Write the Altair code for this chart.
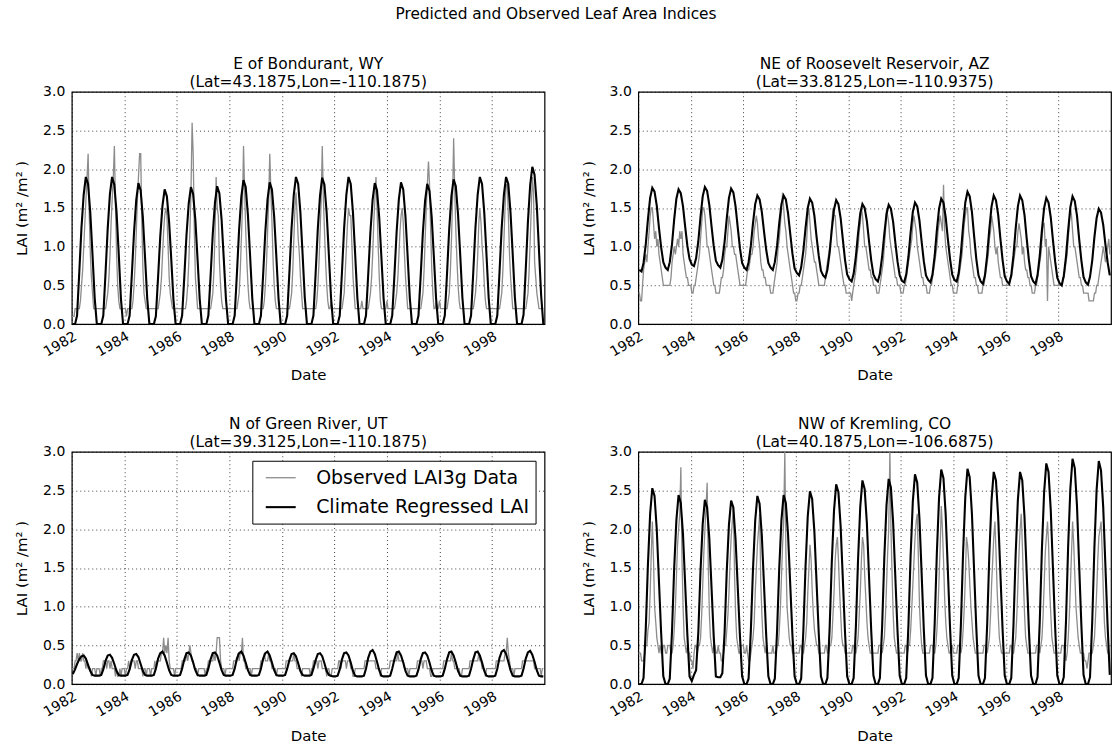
import altair as alt
import pandas as pd

# ---------------------------------------------------------------------------
# Series values
#   *_PRED : climate regressed LAI, one row per year (1982-1999),
#            12 monthly values (mid-month), in hundredths of m2/m2
#   *_OBS  : observed LAI3g, one row per year, 24 half-monthly values
#            (1st and 16th of each month), in tenths of m2/m2
# ---------------------------------------------------------------------------
YEARS = list(range(1982, 2000))
OBS_LABEL = "Observed LAI3g Data"
PRED_LABEL = "Climate Regressed LAI"

SITE_NAMES = [
    "E of Bondurant, WY",
    "NE of Roosevelt Reservoir, AZ",
    "N of Green River, UT",
    "NW of Kremling, CO",
]
SITE_COORDS = [
    "(Lat=43.1875,Lon=-110.1875)",
    "(Lat=33.8125,Lon=-110.9375)",
    "(Lat=39.3125,Lon=-110.1875)",
    "(Lat=40.1875,Lon=-106.6875)",
]

Y_TICKS = [0.0, 0.5, 1.0, 1.5, 2.0, 2.5, 3.0]
X_TICK_YEARS = [1982, 1984, 1986, 1988, 1990, 1992, 1994, 1996, 1998]

WY_PRED = [
    [0, 0, 11, 67, 124, 167, 190, 181, 144, 91, 34, 0],
    [0, 0, 11, 66, 123, 168, 190, 180, 145, 92, 33, 0],
    [0, 0, 11, 64, 118, 160, 182, 173, 138, 87, 33, 0],
    [0, 0, 10, 61, 113, 153, 174, 165, 132, 84, 31, 0],
    [0, 0, 11, 62, 115, 156, 177, 168, 135, 85, 32, 0],
    [0, 0, 11, 62, 116, 157, 178, 169, 135, 85, 32, 0],
    [0, 0, 11, 65, 121, 164, 186, 177, 141, 89, 33, 0],
    [0, 0, 11, 64, 119, 161, 183, 174, 139, 88, 33, 0],
    [0, 0, 11, 67, 124, 167, 190, 181, 144, 91, 34, 0],
    [0, 0, 11, 66, 123, 166, 189, 180, 144, 91, 34, 0],
    [0, 0, 11, 67, 124, 167, 190, 181, 144, 91, 34, 0],
    [0, 0, 11, 64, 118, 160, 182, 173, 138, 87, 33, 0],
    [0, 0, 11, 64, 119, 161, 183, 174, 139, 88, 33, 0],
    [0, 0, 11, 63, 118, 159, 181, 172, 138, 87, 33, 0],
    [0, 0, 11, 65, 122, 165, 187, 178, 142, 90, 34, 0],
    [0, 0, 11, 67, 124, 167, 190, 181, 144, 91, 34, 0],
    [0, 0, 11, 67, 124, 167, 190, 181, 144, 91, 34, 0],
    [0, 0, 12, 71, 132, 179, 203, 193, 154, 97, 37, 0],
]
WY_OBS = [
    [1, 1, 1, 2, 2, 2, 2, 2, 3, 5, 7, 10, 13, 16, 19, 22, 14, 9, 6, 4, 2, 2, 2, 2],
    [2, 2, 2, 2, 2, 2, 2, 2, 3, 4, 6, 9, 13, 16, 19, 23, 15, 9, 5, 3, 2, 2, 2, 2],
    [2, 2, 1, 2, 2, 2, 2, 2, 3, 5, 8, 12, 16, 19, 22, 22, 13, 7, 4, 3, 2, 2, 2, 2],
    [2, 2, 2, 2, 2, 2, 2, 2, 3, 4, 6, 9, 12, 14, 15, 14, 10, 6, 4, 3, 2, 2, 2, 2],
    [2, 2, 2, 2, 2, 2, 2, 2, 2, 3, 5, 8, 12, 17, 26, 22, 12, 6, 4, 2, 2, 2, 2, 2],
    [2, 2, 2, 2, 2, 2, 2, 2, 3, 4, 7, 12, 19, 15, 14, 8, 5, 3, 2, 2, 2, 2, 2, 2],
    [2, 2, 2, 2, 2, 2, 2, 2, 3, 4, 7, 11, 15, 23, 17, 12, 8, 5, 3, 2, 2, 2, 2, 2],
    [2, 2, 2, 2, 2, 2, 2, 2, 3, 5, 8, 12, 16, 22, 17, 13, 8, 5, 3, 2, 2, 2, 2, 2],
    [2, 2, 2, 2, 2, 2, 2, 2, 3, 4, 7, 11, 15, 17, 14, 11, 9, 6, 4, 2, 2, 2, 2, 2],
    [2, 2, 2, 2, 2, 2, 2, 2, 3, 5, 8, 12, 16, 23, 16, 12, 8, 5, 3, 2, 2, 3, 2, 2],
    [2, 2, 2, 2, 2, 2, 2, 2, 3, 4, 7, 10, 13, 15, 14, 14, 10, 6, 4, 2, 2, 2, 2, 2],
    [2, 3, 2, 2, 2, 2, 2, 2, 3, 4, 6, 9, 13, 16, 19, 15, 10, 6, 3, 2, 2, 2, 2, 2],
    [3, 2, 2, 2, 2, 2, 2, 2, 3, 4, 6, 9, 12, 14, 15, 13, 9, 6, 4, 2, 2, 2, 2, 2],
    [2, 2, 2, 2, 2, 2, 2, 2, 3, 4, 7, 11, 15, 18, 21, 18, 12, 7, 4, 2, 2, 3, 2, 2],
    [3, 2, 2, 2, 2, 2, 2, 2, 3, 4, 7, 11, 16, 24, 17, 12, 8, 5, 3, 2, 2, 2, 2, 2],
    [2, 2, 2, 2, 2, 2, 2, 2, 3, 4, 6, 9, 13, 15, 13, 10, 8, 5, 3, 2, 2, 2, 2, 2],
    [2, 2, 2, 2, 2, 2, 2, 2, 3, 4, 7, 11, 15, 18, 18, 14, 9, 6, 4, 2, 2, 2, 2, 2],
    [2, 2, 2, 2, 2, 2, 2, 2, 3, 4, 7, 11, 15, 19, 17, 8, 6, 4, 3, 2, 2, 2, 2, 2],
]

AZ_PRED = [
    [70, 68, 79, 103, 135, 163, 176, 171, 153, 125, 99, 80],
    [73, 70, 80, 103, 135, 162, 174, 169, 152, 126, 101, 84],
    [77, 75, 85, 107, 138, 165, 177, 172, 154, 127, 101, 82],
    [76, 73, 83, 106, 136, 163, 175, 170, 152, 125, 98, 79],
    [73, 70, 80, 101, 130, 155, 166, 161, 145, 120, 96, 79],
    [73, 70, 80, 101, 130, 155, 166, 161, 143, 117, 91, 72],
    [66, 63, 73, 95, 124, 150, 162, 157, 140, 113, 88, 69],
    [63, 60, 70, 92, 122, 148, 160, 155, 137, 110, 83, 64],
    [58, 55, 65, 87, 117, 143, 155, 150, 133, 107, 82, 64],
    [58, 55, 65, 87, 116, 142, 154, 149, 132, 106, 81, 63],
    [56, 54, 64, 87, 118, 145, 157, 152, 134, 107, 81, 63],
    [57, 54, 64, 88, 121, 149, 162, 157, 138, 110, 84, 64],
    [57, 55, 66, 92, 127, 157, 171, 165, 145, 114, 84, 63],
    [55, 52, 63, 89, 123, 152, 166, 160, 141, 111, 83, 62],
    [55, 52, 63, 89, 123, 152, 166, 160, 141, 111, 83, 62],
    [55, 52, 63, 88, 121, 150, 163, 157, 138, 109, 81, 60],
    [53, 50, 62, 87, 121, 151, 165, 159, 140, 110, 82, 61],
    [54, 51, 61, 82, 112, 137, 149, 144, 128, 103, 80, 63],
]
AZ_OBS = [
    [4, 4, 3, 3, 5, 7, 8, 9, 8, 10, 12, 14, 15, 15, 13, 11, 12, 10, 11, 9, 8, 7, 6, 5],
    [5, 5, 5, 5, 5, 5, 6, 8, 9, 10, 9, 10, 11, 10, 12, 11, 12, 9, 8, 7, 6, 6, 5, 5],
    [5, 4, 4, 5, 5, 6, 7, 8, 9, 11, 13, 15, 15, 14, 12, 10, 10, 9, 8, 7, 6, 5, 5, 4],
    [4, 4, 4, 5, 6, 6, 7, 9, 10, 10, 12, 14, 13, 12, 10, 10, 9, 9, 8, 7, 6, 5, 5, 5],
    [5, 5, 5, 6, 7, 7, 8, 9, 9, 10, 12, 13, 14, 13, 11, 10, 8, 7, 7, 6, 6, 5, 5, 5],
    [5, 4, 4, 4, 5, 6, 7, 8, 10, 11, 13, 15, 17, 15, 13, 12, 10, 9, 8, 7, 6, 5, 4, 4],
    [3, 3, 4, 4, 5, 5, 6, 7, 8, 9, 11, 14, 15, 13, 11, 10, 9, 8, 8, 7, 6, 5, 5, 5],
    [5, 5, 5, 6, 7, 8, 9, 10, 11, 13, 15, 14, 14, 12, 10, 10, 9, 8, 7, 6, 5, 5, 4, 4],
    [4, 4, 4, 3, 4, 5, 6, 7, 9, 10, 12, 13, 15, 14, 12, 10, 10, 9, 8, 7, 7, 6, 6, 5],
    [5, 5, 4, 4, 4, 5, 6, 7, 8, 10, 12, 15, 14, 13, 11, 10, 9, 8, 7, 6, 6, 5, 5, 5],
    [4, 4, 4, 5, 5, 6, 7, 8, 9, 10, 11, 13, 14, 13, 12, 10, 9, 8, 7, 6, 6, 5, 5, 5],
    [4, 4, 4, 5, 5, 6, 7, 8, 9, 10, 12, 13, 14, 13, 12, 18, 12, 10, 9, 8, 7, 6, 5, 5],
    [4, 4, 4, 4, 5, 6, 7, 8, 9, 11, 13, 14, 15, 15, 12, 11, 9, 8, 7, 6, 6, 5, 5, 4],
    [4, 4, 4, 5, 5, 6, 7, 8, 9, 11, 12, 14, 13, 12, 10, 9, 10, 8, 7, 6, 6, 5, 5, 5],
    [5, 5, 5, 5, 6, 6, 7, 8, 9, 10, 10, 12, 13, 12, 11, 9, 10, 8, 7, 7, 6, 6, 5, 5],
    [4, 4, 4, 5, 5, 6, 7, 8, 9, 11, 13, 13, 10, 11, 3, 10, 9, 8, 7, 6, 5, 5, 5, 5],
    [5, 5, 5, 5, 6, 6, 7, 8, 9, 11, 13, 15, 14, 12, 10, 10, 9, 8, 7, 6, 6, 5, 5, 4],
    [4, 4, 4, 4, 3, 3, 3, 3, 3, 4, 4, 5, 5, 6, 7, 8, 9, 10, 9, 8, 9, 10, 11, 9],
]

UT_PRED = [
    [13, 19, 26, 32, 36, 37, 33, 25, 17, 12, 11, 11],
    [11, 12, 19, 30, 37, 38, 34, 26, 17, 12, 11, 11],
    [11, 12, 19, 31, 38, 39, 35, 26, 17, 12, 11, 11],
    [11, 12, 20, 33, 40, 42, 37, 28, 18, 12, 11, 11],
    [11, 12, 20, 32, 40, 41, 37, 28, 18, 12, 11, 11],
    [11, 12, 20, 32, 40, 41, 37, 28, 18, 12, 11, 11],
    [11, 12, 20, 33, 40, 42, 37, 28, 18, 12, 11, 11],
    [11, 12, 20, 33, 40, 42, 37, 28, 18, 12, 11, 11],
    [11, 12, 20, 31, 39, 40, 36, 27, 17, 12, 11, 11],
    [11, 12, 20, 31, 39, 40, 36, 27, 17, 12, 11, 10],
    [10, 11, 19, 32, 40, 41, 37, 28, 17, 11, 10, 10],
    [10, 11, 20, 34, 42, 44, 39, 29, 18, 11, 10, 10],
    [10, 11, 20, 32, 41, 42, 37, 28, 17, 11, 10, 10],
    [10, 11, 19, 32, 40, 41, 37, 28, 17, 11, 10, 10],
    [10, 11, 20, 32, 41, 42, 37, 28, 17, 11, 10, 10],
    [10, 11, 20, 32, 41, 42, 37, 28, 17, 11, 10, 10],
    [10, 11, 20, 34, 42, 44, 39, 29, 18, 11, 10, 10],
    [10, 11, 20, 33, 41, 43, 38, 29, 18, 11, 10, 10],
]
UT_OBS = [
    [2, 2, 2, 3, 3, 4, 3, 4, 3, 3, 4, 3, 3, 2, 3, 2, 2, 2, 1, 2, 2, 2, 1, 2],
    [2, 2, 1, 2, 2, 3, 3, 3, 2, 3, 3, 2, 3, 2, 2, 2, 1, 2, 1, 1, 2, 1, 2, 2],
    [2, 1, 2, 2, 3, 2, 3, 3, 3, 3, 2, 3, 3, 2, 2, 2, 2, 1, 2, 2, 1, 2, 2, 2],
    [1, 2, 2, 2, 3, 2, 3, 3, 3, 3, 4, 4, 6, 4, 5, 4, 6, 3, 2, 2, 2, 2, 1, 2],
    [2, 2, 2, 2, 2, 3, 3, 3, 3, 4, 3, 4, 5, 4, 3, 3, 2, 2, 2, 1, 2, 2, 2, 2],
    [2, 2, 1, 2, 2, 3, 3, 3, 3, 3, 4, 3, 4, 6, 6, 6, 3, 2, 2, 2, 1, 2, 2, 2],
    [2, 2, 2, 2, 3, 3, 3, 3, 4, 3, 4, 4, 6, 3, 3, 2, 2, 2, 2, 2, 1, 2, 2, 2],
    [2, 2, 2, 2, 2, 3, 3, 3, 4, 3, 3, 3, 4, 3, 3, 2, 2, 2, 2, 1, 2, 2, 2, 2],
    [2, 2, 2, 2, 3, 3, 3, 3, 3, 3, 3, 4, 3, 3, 2, 2, 2, 2, 1, 2, 2, 2, 2, 2],
    [2, 2, 1, 2, 2, 3, 3, 3, 3, 2, 3, 3, 3, 2, 2, 2, 2, 1, 2, 2, 1, 1, 2, 2],
    [2, 2, 2, 2, 3, 3, 2, 3, 3, 3, 3, 2, 3, 3, 3, 2, 2, 1, 1, 2, 2, 2, 2, 2],
    [2, 2, 2, 2, 3, 3, 3, 3, 3, 3, 3, 3, 3, 3, 2, 2, 2, 2, 1, 2, 2, 2, 2, 2],
    [2, 2, 2, 3, 3, 3, 3, 3, 3, 3, 4, 3, 3, 3, 3, 3, 2, 2, 2, 2, 1, 2, 2, 2],
    [2, 2, 2, 2, 3, 3, 3, 3, 3, 2, 3, 3, 3, 2, 2, 2, 1, 1, 2, 2, 2, 2, 2, 2],
    [2, 2, 2, 2, 3, 3, 3, 3, 3, 3, 3, 4, 3, 3, 2, 2, 2, 2, 2, 1, 1, 2, 2, 2],
    [2, 2, 2, 2, 3, 3, 3, 3, 3, 3, 3, 3, 4, 3, 3, 2, 2, 2, 1, 2, 2, 2, 2, 2],
    [2, 2, 2, 2, 3, 3, 3, 3, 3, 3, 3, 3, 4, 4, 6, 4, 3, 2, 2, 2, 1, 2, 2, 2],
    [2, 2, 2, 2, 3, 3, 3, 3, 3, 3, 3, 3, 3, 3, 3, 2, 2, 2, 2, 2, 2, 1, 2, 2],
]

CO_PRED = [
    [0, 0, 8, 71, 154, 220, 253, 243, 200, 134, 66, 10],
    [0, 0, 7, 68, 149, 212, 244, 234, 193, 129, 63, 10],
    [4, 12, 18, 67, 145, 207, 238, 228, 188, 126, 62, 10],
    [9, 9, 14, 66, 145, 206, 237, 228, 187, 126, 62, 10],
    [0, 0, 7, 68, 148, 211, 243, 233, 192, 129, 63, 10],
    [0, 0, 7, 68, 149, 212, 244, 234, 193, 129, 63, 10],
    [0, 0, 7, 70, 152, 217, 249, 239, 197, 132, 65, 10],
    [0, 0, 8, 72, 157, 224, 258, 248, 204, 137, 67, 10],
    [0, 0, 8, 74, 160, 229, 263, 252, 208, 139, 68, 11],
    [0, 0, 8, 74, 162, 231, 265, 254, 209, 140, 69, 11],
    [0, 0, 8, 76, 165, 236, 271, 260, 214, 144, 70, 11],
    [0, 0, 8, 78, 169, 241, 277, 266, 219, 147, 72, 11],
    [0, 0, 8, 78, 170, 242, 278, 267, 220, 147, 72, 11],
    [0, 0, 8, 77, 167, 238, 274, 263, 216, 145, 71, 11],
    [0, 0, 8, 77, 167, 238, 274, 263, 216, 145, 71, 11],
    [0, 0, 9, 80, 174, 248, 285, 274, 225, 151, 74, 11],
    [0, 0, 9, 81, 178, 253, 291, 279, 230, 154, 76, 12],
    [0, 0, 9, 81, 176, 251, 288, 276, 228, 153, 75, 12],
]
CO_OBS = [
    [4, 4, 4, 3, 3, 3, 4, 5, 5, 7, 8, 12, 17, 21, 16, 10, 8, 6, 5, 4, 5, 4, 4, 5],
    [5, 4, 4, 5, 5, 5, 4, 4, 5, 7, 10, 14, 18, 20, 22, 28, 16, 10, 6, 5, 4, 5, 4, 4],
    [3, 3, 2, 4, 5, 5, 4, 5, 5, 6, 9, 13, 17, 20, 23, 26, 15, 9, 6, 5, 4, 5, 5, 4],
    [4, 5, 4, 4, 3, 3, 4, 5, 5, 7, 9, 12, 16, 19, 21, 23, 14, 9, 6, 5, 4, 4, 5, 5],
    [5, 4, 4, 5, 4, 3, 3, 4, 5, 6, 8, 12, 15, 18, 20, 22, 13, 9, 6, 5, 4, 5, 4, 4],
    [4, 4, 4, 5, 4, 4, 4, 5, 5, 7, 10, 14, 18, 21, 30, 17, 10, 8, 6, 5, 5, 4, 4, 4],
    [4, 4, 4, 4, 5, 5, 4, 4, 5, 6, 8, 12, 15, 18, 16, 12, 9, 7, 6, 5, 5, 4, 4, 4],
    [4, 4, 4, 5, 5, 4, 4, 5, 5, 6, 9, 12, 16, 18, 19, 16, 12, 9, 6, 5, 5, 4, 4, 4],
    [4, 4, 4, 4, 5, 5, 4, 4, 5, 6, 9, 12, 16, 19, 18, 14, 11, 8, 6, 5, 4, 4, 4, 4],
    [4, 4, 4, 4, 5, 5, 5, 4, 5, 6, 9, 13, 17, 20, 30, 20, 14, 9, 6, 5, 4, 4, 4, 4],
    [4, 4, 4, 4, 5, 5, 4, 5, 5, 7, 10, 13, 16, 19, 21, 22, 16, 10, 7, 5, 4, 4, 4, 4],
    [4, 4, 4, 5, 5, 5, 4, 4, 5, 7, 10, 14, 18, 23, 20, 16, 11, 8, 6, 5, 4, 4, 5, 5],
    [4, 4, 4, 4, 5, 5, 5, 4, 5, 7, 10, 14, 19, 18, 16, 13, 10, 8, 6, 5, 4, 4, 4, 4],
    [4, 4, 4, 4, 5, 5, 5, 4, 5, 6, 9, 13, 16, 19, 21, 17, 12, 9, 6, 5, 4, 4, 4, 4],
    [4, 4, 4, 4, 5, 5, 4, 4, 5, 6, 9, 13, 17, 20, 22, 18, 13, 9, 6, 5, 4, 4, 4, 4],
    [4, 4, 4, 4, 5, 5, 5, 4, 5, 6, 9, 13, 17, 19, 21, 18, 12, 9, 6, 5, 4, 4, 4, 4],
    [4, 4, 4, 5, 5, 5, 4, 3, 4, 6, 9, 13, 17, 21, 18, 14, 10, 8, 6, 5, 4, 4, 4, 4],
    [3, 3, 2, 3, 4, 4, 4, 4, 5, 6, 9, 12, 16, 19, 20, 21, 17, 12, 8, 6, 5, 4, 4, 4],
]

FONT = "DejaVu Sans"


def site_table(pred_rows, obs_rows):
    """Long table (date, lai, series) for one site."""
    records = []
    for year, months in zip(YEARS, pred_rows):
        for m, v in enumerate(months):
            records.append((f"{year}-{m + 1:02d}-15", v / 100.0, PRED_LABEL))
    for year, halves in zip(YEARS, obs_rows):
        for i, v in enumerate(halves):
            day = 1 if i % 2 == 0 else 16
            records.append((f"{year}-{i // 2 + 1:02d}-{day:02d}", v / 10.0, OBS_LABEL))
    return pd.DataFrame(records, columns=["date", "lai", "series"])


def jan1(year):
    return alt.DateTime(year=year, month=1, date=1)


def site_panel(idx, pred_rows, obs_rows, with_legend=False):
    df = site_table(pred_rows, obs_rows)
    if with_legend:
        legend = alt.Legend(
            title=None,
            orient="top-right",
            offset=9,
            fillColor="white",
            strokeColor="black",
            padding=6,
            cornerRadius=0,
            # a 30 px horizontal line drawn from a 20 px symbol slot
            symbolType="M-1.5,0H1.5",
            symbolSize=400,
            symbolOffset=11,
            labelFont=FONT,
            labelFontSize=19,
            labelColor="black",
            labelOffset=24,
            labelLimit=400,
            rowPadding=8,
        )
    else:
        legend = None

    base = alt.Chart(df).encode(
        x=alt.X(
            "date:T",
            scale=alt.Scale(domain=[jan1(1982), jan1(2000)]),
            axis=alt.Axis(
                values=[jan1(y) for y in X_TICK_YEARS],
                format="%Y",
                labelAngle=330,
                labelAlign="right",
                labelBaseline="top",
                labelPadding=5,
                title="Date",
                titleY=56,
                titleBaseline="alphabetic",
            ),
        ),
        y=alt.Y(
            "lai:Q",
            scale=alt.Scale(domain=[0, 3]),
            axis=alt.Axis(
                values=Y_TICKS,
                format=".1f",
                labelPadding=7,
                title="LAI (m² /m² )",
                titleX=-42,
            ),
        ),
        color=alt.Color(
            "series:N",
            scale=alt.Scale(domain=[OBS_LABEL, PRED_LABEL], range=["#8c8c8c", "#000000"]),
            legend=legend,
        ),
        strokeWidth=alt.StrokeWidth(
            "series:N",
            scale=alt.Scale(domain=[OBS_LABEL, PRED_LABEL], range=[1.3, 2.1]),
            legend=legend,
        ),
    )
    observed = base.transform_filter(alt.datum.series == OBS_LABEL).mark_line(clip=True)
    predicted = base.transform_filter(alt.datum.series == PRED_LABEL).mark_line(clip=True)
    return alt.layer(observed, predicted).properties(
        width=474,
        height=233,
        title=alt.TitleParams(
            [SITE_NAMES[idx], SITE_COORDS[idx]],
            font=FONT,
            fontSize=15.5,
            fontWeight="normal",
            lineHeight=18,
            offset=-6,
            anchor="middle",
            color="black",
        ),
    )


chart = (
    alt.concat(
        site_panel(0, WY_PRED, WY_OBS),
        site_panel(1, AZ_PRED, AZ_OBS),
        site_panel(2, UT_PRED, UT_OBS, with_legend=True),
        site_panel(3, CO_PRED, CO_OBS),
        columns=2,
        spacing={"row": 128, "column": 94},
        bounds="flush",
    )
    .resolve_scale(color="independent", strokeWidth="independent")
    .properties(
        title=alt.TitleParams(
            "Predicted and Observed Leaf Area Indices",
            font=FONT,
            fontSize=15.4,
            fontWeight="normal",
            color="black",
            anchor="middle",
            dx=-7,
            offset=34,
        ),
        padding={"left": 14, "top": 6, "right": 0, "bottom": 0},
    )
    .configure_axis(
        labelFont=FONT,
        labelFontSize=14,
        labelColor="black",
        titleFont=FONT,
        titleFontSize=15,
        titleFontWeight="normal",
        titleColor="black",
        grid=True,
        gridColor="black",
        gridDash=[1, 3],
        gridOpacity=0.75,
        gridWidth=1,
        domain=False,
        ticks=False,
        tickSize=0,
    )
    .configure_view(stroke="black", strokeWidth=1.2)
)

chart.save("out.html", embed_options={"renderer": "svg", "actions": False})
